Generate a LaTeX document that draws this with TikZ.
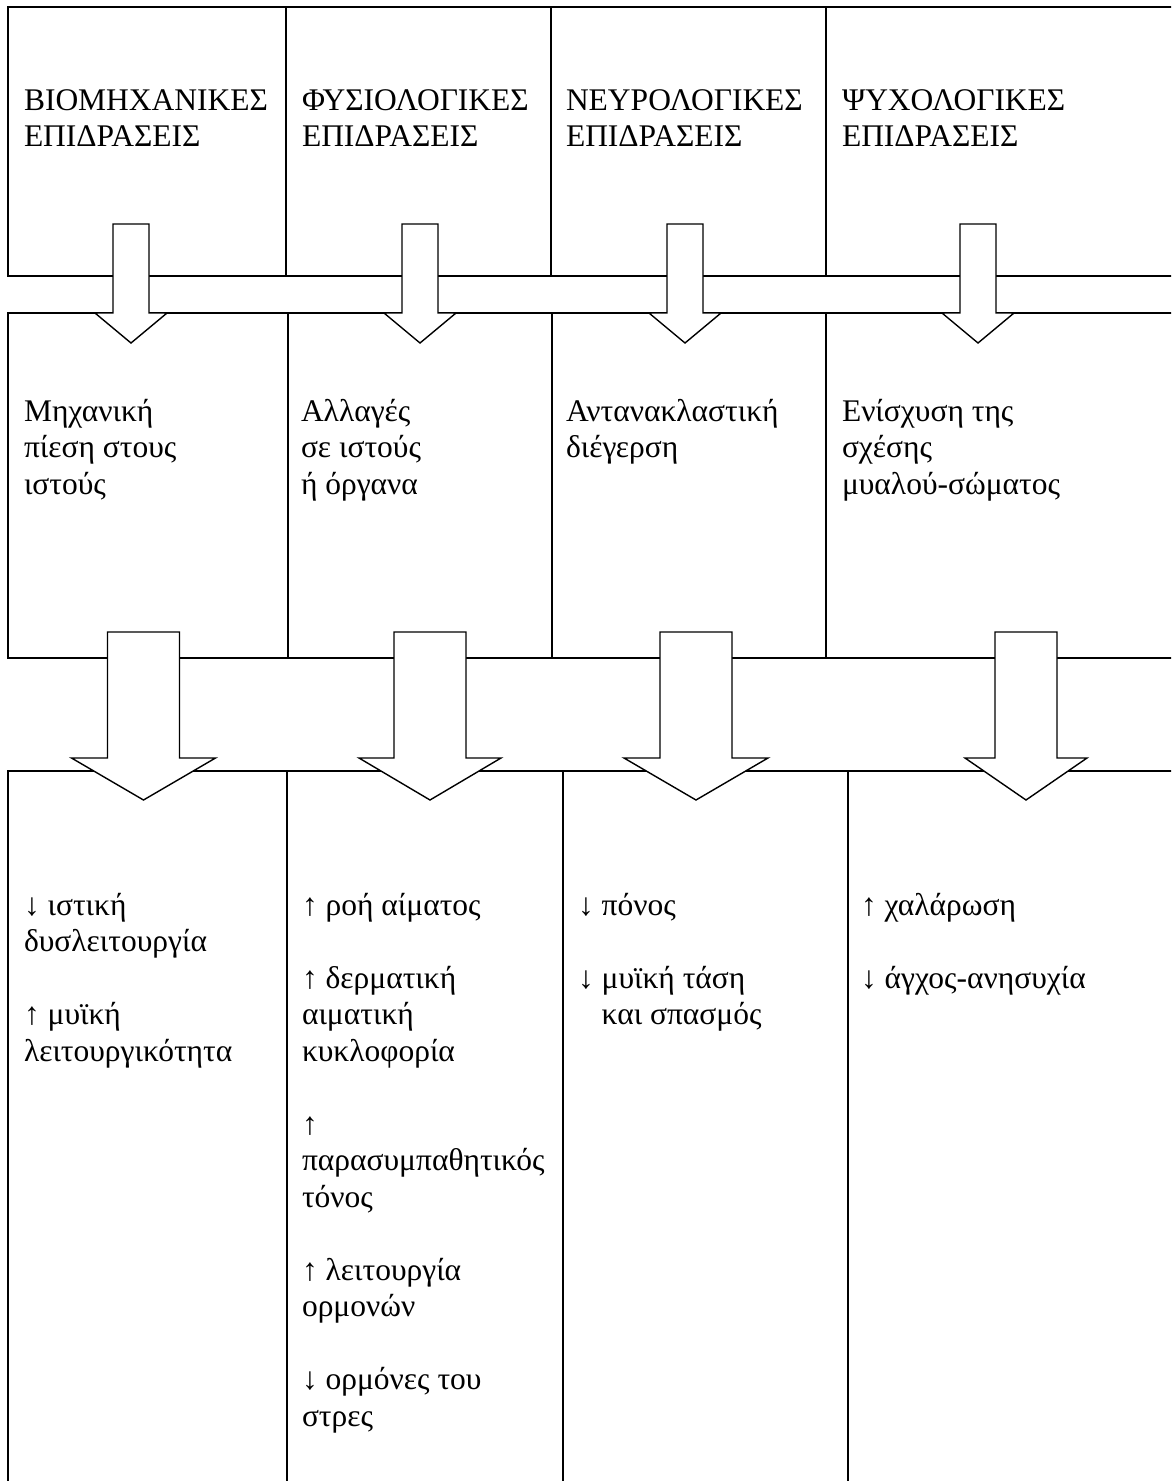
\documentclass[tikz,border=0pt]{standalone}
\usepackage{fontspec}
\setmainfont{Liberation Serif}
\newcommand\mylines[1]{\vtop{\baselineskip=36.5pt\lineskiplimit=-100pt\lineskip=0pt\halign{##\hfil\cr#1\crcr}}}
\newcommand\barr[6]{% cx, top, base, tip, shaft half width, head half width
  \draw[barrow] ({#1-#5},#2) -- ({#1+#5},#2) -- ({#1+#5},#3) -- ({#1+#6},#3)
     -- (#1,#4) -- ({#1-#6},#3) -- ({#1-#5},#3) -- cycle;}
\begin{document}
\begin{tikzpicture}[x=1pt,y=-1pt,
  cell/.style={draw, line width=2pt, inner sep=0pt, outer sep=0pt, anchor=north west},
  lbl/.style={anchor=base west, inner sep=0pt, outer sep=0pt, font=\fontsize{31.5}{36.5}\selectfont},
  barrow/.style={draw, fill=white, line width=1.4pt, line join=miter}]
\useasboundingbox (0,0) rectangle (1171,1481);
\clip (0,0) rectangle (1171,1481);
% top row
\node[cell, minimum width=278pt, minimum height=269pt] (t1) at (8,7) {};
\node[cell, minimum width=265pt, minimum height=269pt] (t2) at (286,7) {};
\node[cell, minimum width=275pt, minimum height=269pt] (t3) at (551,7) {};
\node[cell, minimum width=359pt, minimum height=269pt] (t4) at (826,7) {};
% middle row
\node[cell, minimum width=280pt, minimum height=345pt] (m1) at (8,313) {};
\node[cell, minimum width=264pt, minimum height=345pt] (m2) at (288,313) {};
\node[cell, minimum width=274pt, minimum height=345pt] (m3) at (552,313) {};
\node[cell, minimum width=359pt, minimum height=345pt] (m4) at (826,313) {};
% bottom row
\node[cell, minimum width=279pt, minimum height=724pt] (b1) at (8,771) {};
\node[cell, minimum width=276pt, minimum height=724pt] (b2) at (287,771) {};
\node[cell, minimum width=285pt, minimum height=724pt] (b3) at (563,771) {};
\node[cell, minimum width=337pt, minimum height=724pt] (b4) at (848,771) {};
% texts top
\node[lbl] (tt1) at (24,110) {\mylines{ΒΙΟΜΗΧΑΝΙΚΕΣ\cr ΕΠΙΔΡΑΣΕΙΣ}};
\node[lbl] (tt2) at (302,110) {\mylines{ΦΥΣΙΟΛΟΓΙΚΕΣ\cr ΕΠΙΔΡΑΣΕΙΣ}};
\node[lbl] (tt3) at (566,110) {\mylines{ΝΕΥΡΟΛΟΓΙΚΕΣ\cr ΕΠΙΔΡΑΣΕΙΣ}};
\node[lbl] (tt4) at (842,110) {\mylines{ΨΥΧΟΛΟΓΙΚΕΣ\cr ΕΠΙΔΡΑΣΕΙΣ}};
% texts middle
\node[lbl] (mt1) at (24,421) {\mylines{Μηχανική\cr πίεση στους\cr ιστούς}};
\node[lbl] (mt2) at (301,421) {\mylines{Αλλαγές\cr σε ιστούς\cr ή όργανα}};
\node[lbl] (mt3) at (566,421) {\mylines{Αντανακλαστική\cr διέγερση}};
\node[lbl] (mt4) at (842,421) {\mylines{Ενίσχυση της\cr σχέσης\cr μυαλού-σώματος}};
% texts bottom
\node[lbl] (bt1) at (24,915) {\mylines{↓ ιστική\cr δυσλειτουργία\cr\cr ↑ μυϊκή\cr λειτουργικότητα}};
\node[lbl] (bt2) at (302,915) {\mylines{↑ ροή αίματος\cr\cr ↑ δερματική\cr αιματική\cr κυκλοφορία\cr\cr ↑\cr παρασυμπαθητικός\cr τόνος\cr\cr ↑ λειτουργία\cr ορμονών\cr\cr ↓ ορμόνες του\cr στρες}};
\node[lbl] (bt3) at (578,915) {\mylines{↓ πόνος\cr\cr ↓ μυϊκή τάση\cr \hphantom{↓\ }και σπασμός}};
\node[lbl] (bt4) at (861,915) {\mylines{↑ χαλάρωση\cr\cr ↓ άγχος-ανησυχία}};
% small block arrows
\barr{131}{224}{313}{343}{18}{36}
\barr{420}{224}{313}{343}{18}{36}
\barr{685}{224}{313}{343}{18}{36}
\barr{978}{224}{313}{343}{18}{36}
% big block arrows
\barr{143.5}{632}{758}{800}{36}{72}
\barr{430}{632}{758}{800}{36}{71}
\barr{696}{632}{758}{800}{36}{72}
\barr{1026}{632}{758}{800}{31}{61}
\end{tikzpicture}
\end{document}
